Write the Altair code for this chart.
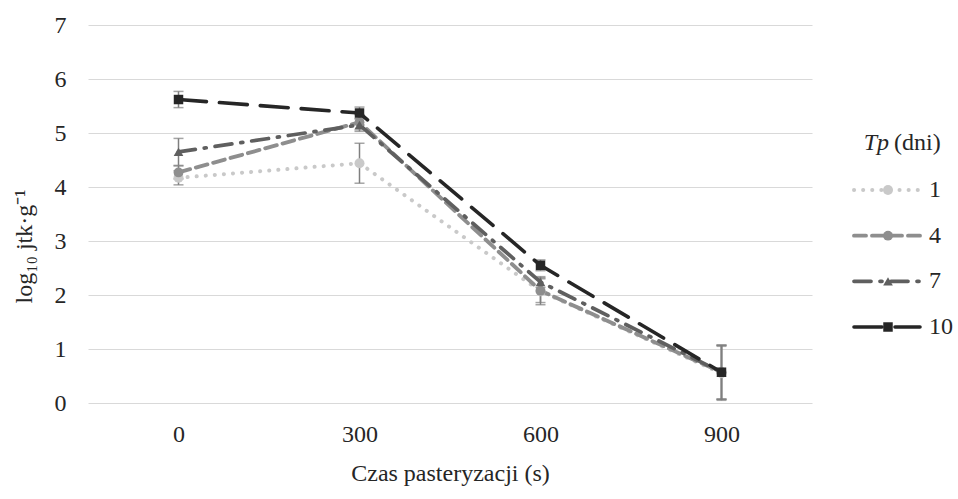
import altair as alt
import pandas as pd

# Pasteurisation time (s) and storage time Tp (days)
czas = [0, 300, 600, 900]
tp_labels = ["1", "4", "7", "10"]

# log10 cfu/g means per storage time
tp1 = [4.17, 4.44, 2.07, 0.55]
tp4 = [4.27, 5.20, 2.08, 0.57]
tp7 = [4.65, 5.15, 2.24, 0.57]
tp10 = [5.62, 5.37, 2.55, 0.57]

# standard deviations
sd1 = [0.13, 0.37, 0.25, 0.50]
sd4 = [0.12, 0.14, 0.22, 0.50]
sd7 = [0.25, 0.12, 0.10, 0.50]
sd10 = [0.15, 0.11, 0.10, 0.50]

legend_title_parts = ["Tp", "(dni)"]

rows = []
for lab, vals, sds in zip(tp_labels, [tp1, tp4, tp7, tp10], [sd1, sd4, sd7, sd10]):
    for t, v, s in zip(czas, vals, sds):
        rows.append({"czas": t, "tp": lab, "val": v, "lo": v - s, "hi": v + s})
df = pd.DataFrame(rows)
leg = pd.DataFrame({"tp": tp_labels})

FONT = "Liberation Serif"
FS = 24
TXT = "#262626"
colors = ["#c9c9c9", "#8e8e8e", "#5f5f5f", "#262626"]
dashes = [[0.1, 9], [12, 6], [17, 9, 2, 9], [28, 13]]
widths = [4, 3.6, 3.6, 4.2]
shapes = ["circle", "circle", "triangle-up", "square"]
sizes = [100, 90, 90, 100]

color = alt.Color("tp:N", scale=alt.Scale(domain=tp_labels, range=colors), legend=None)
dash = alt.StrokeDash("tp:N", scale=alt.Scale(domain=tp_labels, range=dashes), legend=None)
swidth = alt.StrokeWidth("tp:N", scale=alt.Scale(domain=tp_labels, range=widths), legend=None)
shape = alt.Shape("tp:N", scale=alt.Scale(domain=tp_labels, range=shapes), legend=None)
msize = alt.Size("tp:N", scale=alt.Scale(domain=tp_labels, range=sizes), legend=None)

x = alt.X(
    "czas:Q",
    scale=alt.Scale(domain=[-150, 1050], nice=False),
    axis=alt.Axis(
        values=czas, grid=False, ticks=False, domain=False, format="d",
        labelPadding=19, title="Czas pasteryzacji (s)", titlePadding=15,
    ),
)
y = alt.Y(
    "val:Q",
    scale=alt.Scale(domain=[0, 7], nice=False),
    axis=alt.Axis(
        values=list(range(8)), ticks=False, domain=False, format="d",
        gridColor="#d9d9d9", gridWidth=1.2,
        labelPadding=22, title="log₁₀ jtk·g⁻¹", titlePadding=18, titleY=221,
    ),
)

base = alt.Chart(df)

errs = base.mark_rule(color="#7f7f7f", strokeWidth=1.5).encode(
    x=x, y=alt.Y("lo:Q"), y2="hi:Q"
)
caps_lo = base.mark_tick(color="#7f7f7f", orient="horizontal", size=10, thickness=1.5).encode(
    x=x, y=alt.Y("lo:Q")
)
caps_hi = base.mark_tick(color="#7f7f7f", orient="horizontal", size=10, thickness=1.5).encode(
    x=x, y=alt.Y("hi:Q")
)
lines = base.mark_line(strokeCap="round").encode(
    x=x, y=y, color=color, strokeDash=dash, strokeWidth=swidth
)
pts = base.mark_point(filled=True, opacity=1).encode(
    x=x, y=y, color=color, shape=shape, size=msize
)

main = alt.layer(errs, caps_lo, caps_hi, lines, pts)

# legend drawn beside the plot
ly = alt.Y("tp:N", scale=alt.Scale(domain=tp_labels, type="point", range=[165, 302], padding=0), axis=None)
leg_base = alt.Chart(leg)
leg_lines = leg_base.mark_rule(strokeCap="round").encode(
    x=alt.value(766), x2=alt.value(832), y=ly,
    color=color, strokeDash=dash, strokeWidth=swidth,
)
leg_pts = leg_base.mark_point(filled=True, opacity=1).encode(
    x=alt.value(800), y=ly, color=color, shape=shape, size=msize
)
leg_text = leg_base.mark_text(align="left", baseline="middle", font=FONT, fontSize=FS, color=TXT).encode(
    x=alt.value(841), y=ly, text="tp:N"
)
title_df = pd.DataFrame({"part": legend_title_parts})
leg_t1 = alt.Chart(title_df).transform_filter(alt.datum.part == "Tp").mark_text(
    align="right", baseline="middle", font=FONT, fontSize=FS, fontStyle="italic", color=TXT
).encode(x=alt.value(801), y=alt.value(118), text="part:N")
leg_t2 = alt.Chart(title_df).transform_filter(alt.datum.part == "(dni)").mark_text(
    align="left", baseline="middle", font=FONT, fontSize=FS, color=TXT
).encode(x=alt.value(806), y=alt.value(118), text="part:N")

legend = alt.layer(leg_lines, leg_pts, leg_text, leg_t1, leg_t2)

chart = (
    alt.layer(main, legend)
    .resolve_scale(y="independent")
    .properties(
        width=724, height=378,
        autosize=alt.AutoSizeParams(type="none"),
        padding={"left": 88, "top": 25, "right": 146, "bottom": 96},
        background="white",
    )
    .configure(font=FONT)
    .configure_axis(
        labelFont=FONT, labelFontSize=FS, labelColor=TXT,
        titleFont=FONT, titleFontSize=FS, titleFontWeight="normal", titleColor=TXT,
    )
    .configure_text(font=FONT)
    .configure_view(stroke=None)
)

chart.save("out.html", embed_options={"renderer": "svg", "actions": False})
